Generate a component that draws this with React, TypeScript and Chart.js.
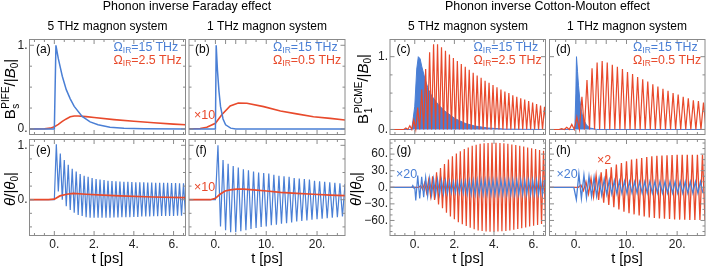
import React, { useEffect, useRef } from "react";
import { Chart, registerables } from "chart.js";

Chart.register(...registerables);

const W = 706;
const H = 267;
const YW = 26;
const XH = 22;
const BLUE = "#4a7fd5";
const RED = "#e84a2c";
const FRAME = "#8a8a8a";
const FONT = "'Liberation Sans', Arial, Helvetica, sans-serif";

// ---------- axis ranges ----------
const X5_RANGE = [-1.25, 6.6];
const X1_RANGE = [-5.2, 25.5];
const Y_PIFE_RANGE = [-0.066, 1.069];
const Y_PICME_RANGE = [-0.069, 1.236];
const Y_THETA_F_RANGE = [-0.658, 1.107];
const Y_THETA_CM_RANGE = [-87.2, 86.4];

// ---------- ticks ----------
const X5_LABELS = [0, 2, 4, 6];
const X5_TICKS = [-1, -0.5, 0, 0.5, 1, 1.5, 2, 2.5, 3, 3.5, 4, 4.5, 5, 5.5, 6, 6.5];
const X1_LABELS = [0, 10, 20];
const X1_TICKS = [-4, -2, 0, 2, 4, 6, 8, 10, 12, 14, 16, 18, 20, 22, 24];
const Y_UNIT_LABELS = [0, 1];
const Y_TOP_TICKS = [0, 0.25, 0.5, 0.75, 1];
const Y_THETA_F_TICKS = [-0.5, -0.25, 0, 0.25, 0.5, 0.75, 1];
const Y_THETA_CM_LABELS = [-60, -30, 0, 30, 60];
const Y_THETA_CM_TICKS = [-80, -70, -60, -50, -40, -30, -20, -10, 0, 10, 20, 30, 40, 50, 60, 70, 80];

// ---------- (a) PIFE, 5 THz ----------
const aBlueT = [-1.25, 0, 0.08, 0.2, 0.4, 0.6, 0.8, 1.0, 1.4, 1.8, 2.2, 2.8, 3.5, 4.5, 6.6];
const aBlueV = [0, 0, 1.0, 0.84, 0.63, 0.47, 0.36, 0.27, 0.15, 0.085, 0.05, 0.022, 0.008, 0.002, 0];
const aRedT = [-1.25, -0.5, -0.2, 0, 0.2, 0.4, 0.6, 0.8, 1.0, 1.2, 1.6, 2, 3, 4, 5, 6, 6.6];
const aRedV = [0, 0.003, 0.01, 0.025, 0.055, 0.09, 0.12, 0.145, 0.155, 0.155, 0.147, 0.137, 0.112, 0.092, 0.074, 0.058, 0.05];

// ---------- (b) PIFE, 1 THz ----------
const bBlueT = [-5.2, 0, 0.15, 0.4, 0.7, 1.0, 1.5, 2, 3, 4, 25.5];
const bBlueV = [0, 0, 1.0, 0.7, 0.45, 0.27, 0.12, 0.05, 0.01, 0, 0];
const bRedT = [-5.2, -3, -1.7, 0, 1.25, 2.9, 4.5, 6.2, 9.5, 12.8, 16, 19.3, 22.6, 25.5];
const bRedV = [0.002, 0.006, 0.02, 0.068, 0.17, 0.275, 0.31, 0.307, 0.267, 0.215, 0.18, 0.147, 0.127, 0.108];

// ---------- (c) PICME, 5 THz ----------
const cBlueT = [-1.25, -0.15, 0, 0.1, 0.18, 0.27, 0.35, 0.52, 0.69, 0.86, 1.19, 1.53, 2.03, 2.54, 3.04, 3.71, 4.55, 6.6];
const cBlueV = [0, 0, 0.32, 0.83, 1.0, 0.97, 0.87, 0.69, 0.55, 0.46, 0.34, 0.25, 0.15, 0.085, 0.047, 0.02, 0.005, 0];
const cRedStart = -0.45;
const cRedPeriod = 0.2;
const cRedPeaks = [0.02, 0.05, 0.13, 0.3, 0.55, 0.83, 1.06, 1.17, 1.17, 1.13, 1.08, 1.03, 0.98, 0.94, 0.9, 0.86, 0.82, 0.78,
  0.74, 0.71, 0.67, 0.64, 0.61, 0.58, 0.55, 0.52, 0.5, 0.47, 0.45, 0.43, 0.41, 0.39, 0.37, 0.35, 0.33, 0.31];

// ---------- (d) PICME, 1 THz ----------
const dBlueT = [-5.2, -0.2, 0, 0.13, 0.33, 0.53, 0.8, 1.1, 1.45, 2.1, 2.8, 4.1, 25.5];
const dBlueV = [0, 0, 0.5, 1.0, 0.8, 0.6, 0.4, 0.25, 0.15, 0.06, 0.02, 0, 0];
const dRedStart = -2.8;
const dRedPeriod = 1;
const dRedPeaks = [0.01, 0.03, 0.07, 0.17, 0.45, 0.68, 0.84, 0.92, 0.94, 0.92, 0.89, 0.86, 0.83, 0.79, 0.76, 0.72, 0.69,
  0.66, 0.62, 0.59, 0.56, 0.53, 0.5, 0.48, 0.45, 0.43, 0.4, 0.39, 0.37];

// ---------- (e) theta, PIFE 5 THz ----------
const eBlueLeadT = [-1.25, 0];
const eBlueLeadV = [0, 0];
const eBlueStart = 0.1;
const eBluePeriod = 0.2;
const eBlueHighs = [1.02, 0.85, 0.73, 0.64, 0.57, 0.52, 0.47, 0.44, 0.42, 0.4, 0.38, 0.37, 0.36, 0.35, 0.345, 0.34, 0.335,
  0.33, 0.33, 0.325, 0.32, 0.32, 0.32, 0.315, 0.315, 0.31, 0.31, 0.31, 0.31, 0.305, 0.305, 0.3, 0.3];
const eBlueLows = [0.15, 0.0, -0.12, -0.19, -0.24, -0.28, -0.3, -0.32, -0.33, -0.33, -0.33, -0.33, -0.33, -0.33, -0.325,
  -0.325, -0.32, -0.32, -0.32, -0.315, -0.315, -0.31, -0.31, -0.31, -0.305, -0.305, -0.3, -0.3, -0.3, -0.3, -0.295, -0.295, -0.29];
const eRedT = [-1.25, -0.3, 0, 0.28, 0.62, 0.95, 1.6, 2.45, 3.3, 4.95, 6.6];
const eRedV = [0, 0, 0.01, 0.07, 0.1, 0.115, 0.1, 0.085, 0.07, 0.05, 0.037];

// ---------- (f) theta, PIFE 1 THz ----------
const fBlueLeadT = [-5.2, 0];
const fBlueLeadV = [0, 0];
const fBlueStart = 0.5;
const fBluePeriod = 1;
const fBlueHighs = [1.0, 0.73, 0.66, 0.62, 0.59, 0.56, 0.54, 0.52, 0.5, 0.49, 0.48, 0.46, 0.44, 0.43, 0.42, 0.4, 0.39, 0.38,
  0.37, 0.35, 0.34, 0.33, 0.32, 0.31, 0.3, 0.29];
const fBlueLows = [-0.49, -0.56, -0.6, -0.6, -0.58, -0.56, -0.54, -0.52, -0.5, -0.49, -0.47, -0.46, -0.44, -0.43, -0.42,
  -0.4, -0.39, -0.38, -0.37, -0.36, -0.35, -0.34, -0.33, -0.32, -0.31];
const fRedT = [-5.2, -1, 0, 0.9, 1.9, 2.9, 4.2, 5.5, 7.5, 10.1, 12.8, 16, 19.3, 22.6, 25.5];
const fRedV = [0, 0, 0.025, 0.1, 0.16, 0.18, 0.195, 0.195, 0.18, 0.16, 0.135, 0.115, 0.1, 0.085, 0.075];

// ---------- (g) theta, PICME 5 THz ----------
const gBlueLeadT = [-1.25, -0.15, -0.1, -0.05, 0];
const gBlueLeadV = [0, 0, 3, -1, 0];
const gBlueStart = 0.05;
const gBluePeriod = 0.2;
const gBlueLows = [-24, -20, -18, -16, -15, -14, -13, -12, -11, -10, -10, -10.5, -11, -12, -12.5, -13, -13, -13, -13, -13,
  -13, -13, -13, -13, -13, -13, -13, -13, -13, -13, -13, -13, -13];
const gBlueHighs = [21, 19, 18, 16, 15, 14, 13, 12, 11, 10, 10, 10.5, 11, 12, 12.5, 13, 13, 13, 13, 13, 13, 13, 13, 13, 13,
  13, 13, 13, 13, 13, 13, 13, 13];
const gRedLeadT = [-1.25, 0.2];
const gRedLeadV = [0, 0];
const gRedStart = 0.3;
const gRedPeriod = 0.2;
const gRedHighs = [3, 8, 13, 20, 27, 35, 42, 50, 56, 61, 65, 69, 72, 75, 77, 78.5, 79.5, 80, 80.5, 80.5, 80, 79.5, 78.5, 77.5,
  76.5, 75, 73.5, 72, 70.5, 69, 67.5, 66];
const gRedLows = [-4, -10, -16, -23, -31, -38, -46, -53, -58, -63, -67, -70, -73, -76, -78, -79, -80, -80.5, -80.5, -80,
  -79.5, -79, -78, -77, -75.5, -74, -72.5, -71, -69.5, -68, -66.5, -65];

// ---------- (h) theta, PICME 1 THz ----------
const hBlueLeadT = [-5.2, -0.4];
const hBlueLeadV = [0, 0];
const hBlueStart = 0.1;
const hBluePeriod = 1;
const hBlueLows = [-22, -20, -19, -17, -16, -14, -13, -12, -11.5, -11, -11, -10.5, -10.5, -10.5, -10.5, -10.5, -10.5, -10.5,
  -10.5, -10.5, -10.5, -10.5, -10.5, -10.5, -10.5, -10.5];
const hBlueHighs = [24, 22, 20, 18, 16, 14.5, 13, 12, 11.5, 11, 10.5, 10, 10, 10, 10, 10, 10, 10, 10, 10, 10, 10, 10, 10, 10];
const hRedLeadT = [-5.2, 0.5];
const hRedLeadV = [0, 0];
const hRedStart = 1.0;
const hRedPeriod = 1;
const hRedHighs = [4, 10, 16, 22, 27, 33, 36, 41, 44, 47, 50, 51.5, 53, 54.5, 56, 57, 57.5, 58, 58.5, 59, 59, 59, 59, 59, 59];
const hRedLows = [-6, -12, -17, -23, -28, -32, -36, -40, -44, -47, -49, -51, -53, -54.5, -55.5, -56.5, -57, -57.5, -58,
  -58.5, -58.5, -59, -59, -59, -59];

// ---------- helpers to build the library's point tables ----------
type Pt = { x: number; y: number };
const pts = (t: number[], v: number[]): Pt[] => t.map((x, i) => ({ x, y: v[i] }));
function zigzag(t0: number, period: number, first: number[], second: number[]): Pt[] {
  const out: Pt[] = [];
  for (let i = 0; i < first.length; i++) {
    out.push({ x: t0 + i * period, y: first[i] });
    if (i < second.length) out.push({ x: t0 + (i + 0.5) * period, y: second[i] });
  }
  return out;
}
function spikes(t0: number, period: number, peaks: number[], xmin: number): Pt[] {
  const out: Pt[] = [{ x: xmin, y: 0 }];
  for (let i = 0; i < peaks.length; i++) {
    out.push({ x: t0 + (i - 0.5) * period, y: 0 });
    out.push({ x: t0 + i * period, y: peaks[i] });
  }
  out.push({ x: t0 + (peaks.length - 0.5) * period, y: 0 });
  return out;
}
const line = (data: Pt[], color: string, width = 1.2) => ({
  data,
  borderColor: color,
  backgroundColor: color,
  borderWidth: width,
  pointRadius: 0,
  fill: false,
});
const area = (data: Pt[], color: string) => ({
  data,
  borderColor: color,
  backgroundColor: color,
  borderWidth: 1,
  pointRadius: 0,
  fill: "origin",
});

const fmtNum = (v: number) => (v < 0 ? "\u2212" + String(-v) + "." : String(v) + ".");

type Panel = {
  left: number; top: number; right: number; bottom: number;
  xr: number[]; yr: number[];
  xLabels: number[] | null; yLabels: number[] | null;
  xTicks: number[]; yTicks: number[];
  datasets: any[];
};

const COL = [
  [29.5, 185.5],
  [189, 345],
  [390, 545.5],
  [549.5, 705],
];
const ROW = [
  [39.5, 134.5],
  [139.5, 235.5],
];

const PANELS: Panel[] = [
  {
    left: COL[0][0], right: COL[0][1], top: ROW[0][0], bottom: ROW[0][1], xr: X5_RANGE, yr: Y_PIFE_RANGE,
    xLabels: null, yLabels: Y_UNIT_LABELS, xTicks: X5_TICKS, yTicks: Y_TOP_TICKS,
    datasets: [line(pts(aBlueT, aBlueV), BLUE, 1.5), line(pts(aRedT, aRedV), RED, 1.6)],
  },
  {
    left: COL[1][0], right: COL[1][1], top: ROW[0][0], bottom: ROW[0][1], xr: X1_RANGE, yr: Y_PIFE_RANGE,
    xLabels: null, yLabels: null, xTicks: X1_TICKS, yTicks: Y_TOP_TICKS,
    datasets: [line(pts(bBlueT, bBlueV), BLUE, 1.5), line(pts(bRedT, bRedV), RED, 1.6)],
  },
  {
    left: COL[2][0], right: COL[2][1], top: ROW[0][0], bottom: ROW[0][1], xr: X5_RANGE, yr: Y_PICME_RANGE,
    xLabels: null, yLabels: Y_UNIT_LABELS, xTicks: X5_TICKS, yTicks: Y_TOP_TICKS,
    datasets: [line(spikes(cRedStart, cRedPeriod, cRedPeaks, X5_RANGE[0]), RED, 1.2), area(pts(cBlueT, cBlueV), BLUE)],
  },
  {
    left: COL[3][0], right: COL[3][1], top: ROW[0][0], bottom: ROW[0][1], xr: X1_RANGE, yr: Y_PICME_RANGE,
    xLabels: null, yLabels: null, xTicks: X1_TICKS, yTicks: Y_TOP_TICKS,
    datasets: [line(spikes(dRedStart, dRedPeriod, dRedPeaks, X1_RANGE[0]), RED, 1.2), area(pts(dBlueT, dBlueV), BLUE)],
  },
  {
    left: COL[0][0], right: COL[0][1], top: ROW[1][0], bottom: ROW[1][1], xr: X5_RANGE, yr: Y_THETA_F_RANGE,
    xLabels: X5_LABELS, yLabels: Y_UNIT_LABELS, xTicks: X5_TICKS, yTicks: Y_THETA_F_TICKS,
    datasets: [
      line(pts(eRedT, eRedV), RED, 1.7),
      line([...pts(eBlueLeadT, eBlueLeadV), ...zigzag(eBlueStart, eBluePeriod, eBlueHighs, eBlueLows)], BLUE, 1.2),
    ],
  },
  {
    left: COL[1][0], right: COL[1][1], top: ROW[1][0], bottom: ROW[1][1], xr: X1_RANGE, yr: Y_THETA_F_RANGE,
    xLabels: X1_LABELS, yLabels: null, xTicks: X1_TICKS, yTicks: Y_THETA_F_TICKS,
    datasets: [
      line(pts(fRedT, fRedV), RED, 1.7),
      line([...pts(fBlueLeadT, fBlueLeadV), ...zigzag(fBlueStart, fBluePeriod, fBlueHighs, fBlueLows)], BLUE, 1.2),
    ],
  },
  {
    left: COL[2][0], right: COL[2][1], top: ROW[1][0], bottom: ROW[1][1], xr: X5_RANGE, yr: Y_THETA_CM_RANGE,
    xLabels: X5_LABELS, yLabels: Y_THETA_CM_LABELS, xTicks: X5_TICKS, yTicks: Y_THETA_CM_TICKS,
    datasets: [
      line([...pts(gBlueLeadT, gBlueLeadV), ...zigzag(gBlueStart, gBluePeriod, gBlueLows, gBlueHighs)], BLUE, 1.2),
      line([...pts(gRedLeadT, gRedLeadV), ...zigzag(gRedStart, gRedPeriod, gRedHighs, gRedLows)], RED, 1.2),
    ],
  },
  {
    left: COL[3][0], right: COL[3][1], top: ROW[1][0], bottom: ROW[1][1], xr: X1_RANGE, yr: Y_THETA_CM_RANGE,
    xLabels: X1_LABELS, yLabels: null, xTicks: X1_TICKS, yTicks: Y_THETA_CM_TICKS,
    datasets: [
      line([...pts(hBlueLeadT, hBlueLeadV), ...zigzag(hBlueStart, hBluePeriod, hBlueLows, hBlueHighs)], BLUE, 1.3),
      line([...pts(hRedLeadT, hRedLeadV), ...zigzag(hRedStart, hRedPeriod, hRedHighs, hRedLows)], RED, 1.3),
    ],
  },
];

function makeConfig(p: Panel): any {
  const framePlugin = {
    id: "frameTicks",
    afterDraw(chart: any) {
      const { ctx, chartArea: a } = chart;
      const xs = chart.scales.x;
      const ys = chart.scales.y;
      ctx.save();
      ctx.strokeStyle = FRAME;
      ctx.lineWidth = 1;
      ctx.strokeRect(a.left, a.top, a.right - a.left, a.bottom - a.top);
      ctx.beginPath();
      for (const v of p.xTicks) {
        const px = xs.getPixelForValue(v);
        const len = (p.xLabels ? p.xLabels : X5_LABELS.concat(X1_LABELS)).includes(v) ? 4.5 : 2.5;
        ctx.moveTo(px, a.bottom);
        ctx.lineTo(px, a.bottom - len);
        ctx.moveTo(px, a.top);
        ctx.lineTo(px, a.top + len);
      }
      for (const v of p.yTicks) {
        const py = ys.getPixelForValue(v);
        const major = (p.yLabels || (p.yr[1] > 10 ? Y_THETA_CM_LABELS : Y_UNIT_LABELS)).includes(v);
        const len = major ? 4.5 : 2.5;
        ctx.moveTo(a.left, py);
        ctx.lineTo(a.left + len, py);
        ctx.moveTo(a.right, py);
        ctx.lineTo(a.right - len, py);
      }
      ctx.stroke();
      ctx.restore();
    },
  };
  return {
    type: "line",
    data: { datasets: p.datasets },
    options: {
      animation: false,
      responsive: false,
      maintainAspectRatio: false,
      parsing: false,
      events: [],
      layout: {
        padding: { left: p.left - YW, top: p.top, right: W - p.right, bottom: H - p.bottom - XH },
      },
      plugins: { legend: { display: false }, tooltip: { enabled: false } },
      elements: { point: { radius: 0 }, line: { tension: 0 } },
      scales: {
        x: {
          type: "linear",
          position: "bottom",
          min: p.xr[0],
          max: p.xr[1],
          grid: { display: false, drawTicks: false },
          border: { display: false },
          ticks: {
            display: !!p.xLabels,
            autoSkip: false,
            maxRotation: 0,
            padding: 2,
            color: "#222",
            font: { family: FONT, size: 12 },
            callback: (v: number) => fmtNum(v),
          },
          afterBuildTicks: (s: any) => {
            if (p.xLabels) s.ticks = p.xLabels.map((v) => ({ value: v }));
          },
          afterFit: (s: any) => {
            s.height = XH;
          },
        },
        y: {
          type: "linear",
          position: "left",
          min: p.yr[0],
          max: p.yr[1],
          grid: { display: false, drawTicks: false },
          border: { display: false },
          ticks: {
            display: !!p.yLabels,
            autoSkip: false,
            padding: 2,
            color: "#222",
            font: { family: FONT, size: 12 },
            callback: (v: number) => fmtNum(v),
          },
          afterBuildTicks: (s: any) => {
            if (p.yLabels) s.ticks = p.yLabels.map((v) => ({ value: v }));
          },
          afterFit: (s: any) => {
            s.width = YW;
          },
        },
      },
    },
    plugins: [framePlugin],
  };
}

function PanelChart({ p }: { p: Panel }) {
  const ref = useRef<HTMLCanvasElement>(null);
  useEffect(() => {
    if (!ref.current) return;
    const chart = new Chart(ref.current, makeConfig(p));
    return () => chart.destroy();
  }, [p]);
  return (
    <canvas
      ref={ref}
      width={W}
      height={H}
      style={{ position: "absolute", left: 0, top: 0, width: W, height: H, pointerEvents: "none" }}
    />
  );
}

const base: React.CSSProperties = {
  position: "absolute",
  whiteSpace: "nowrap",
  lineHeight: 1,
  fontFamily: FONT,
};

function T({ x, y, size = 12, color = "#000", align = "center", children }: any) {
  const tx = align === "left" ? "0" : "-50%";
  return (
    <div
      style={{
        ...base,
        left: x,
        top: y,
        fontSize: size,
        color,
        transform: `translate(${tx},-50%)`,
      }}
    >
      {children}
    </div>
  );
}

function RotLabel({ x, y, size, children }: any) {
  return (
    <div
      style={{
        ...base,
        left: x,
        top: y,
        fontSize: size,
        color: "#000",
        transform: "translate(-50%,-50%) rotate(-90deg)",
      }}
    >
      {children}
    </div>
  );
}

const Sub = ({ children, size = 8.5 }: any) => (
  <span style={{ fontSize: size, verticalAlign: -2 }}>{children}</span>
);

function Omega({ rest }: { rest: string }) {
  return (
    <>
      {"\u03A9"}
      <Sub>IR</Sub>
      {rest}
    </>
  );
}

function BLabel({ sub, sup }: { sub: string; sup: string }) {
  return (
    <span>
      B
      <span
        style={{
          display: "inline-flex",
          flexDirection: "column",
          verticalAlign: "middle",
          fontSize: 10,
          lineHeight: 1,
          marginLeft: 0.5,
        }}
      >
        <span>{sup}</span>
        <span>{sub}</span>
      </span>
      /|<i>B</i>
      <span style={{ fontSize: 10, verticalAlign: -3 }}>0</span>|
    </span>
  );
}

function ThetaLabel() {
  return (
    <span>
      <i>θ</i>/|<i>θ</i>
      <span style={{ fontSize: 10, verticalAlign: -3 }}>0</span>|
    </span>
  );
}

export default function App() {
  const legendTop = 48;
  const legendBot = 61;
  const LS = 12.4;
  return (
    <div style={{ position: "fixed", left: 0, top: 0, width: W, height: H, background: "#fff", overflow: "hidden" }}>
      {PANELS.map((p, i) => (
        <PanelChart key={i} p={p} />
      ))}
      {/* headings */}
      <T x={187} y={6} size={12.4}>Phonon inverse Faraday effect</T>
      <T x={547.5} y={6} size={12.4}>Phonon inverse Cotton-Mouton effect</T>
      <T x={107.5} y={26}>5 THz magnon system</T>
      <T x={267} y={26}>1 THz magnon system</T>
      <T x={468} y={26}>5 THz magnon system</T>
      <T x={627} y={26}>1 THz magnon system</T>

      {/* legends */}
      <T x={COL[0][1] - 72} y={legendTop} size={LS} align="left" color={BLUE}><Omega rest="=15 THz" /></T>
      <T x={COL[0][1] - 72} y={legendBot} size={LS} align="left" color={RED}><Omega rest="=2.5 THz" /></T>
      <T x={COL[1][1] - 72} y={legendTop} size={LS} align="left" color={BLUE}><Omega rest="=15 THz" /></T>
      <T x={COL[1][1] - 72} y={legendBot} size={LS} align="left" color={RED}><Omega rest="=0.5 THz" /></T>
      <T x={COL[2][1] - 72} y={legendTop} size={LS} align="left" color={BLUE}><Omega rest="=15 THz" /></T>
      <T x={COL[2][1] - 72} y={legendBot} size={LS} align="left" color={RED}><Omega rest="=2.5 THz" /></T>
      <T x={COL[3][1] - 72} y={legendTop} size={LS} align="left" color={BLUE}><Omega rest="=15 THz" /></T>
      <T x={COL[3][1] - 72} y={legendBot} size={LS} align="left" color={RED}><Omega rest="=0.5 THz" /></T>

      {/* panel letters */}
      <T x={COL[0][0] + 6.5} y={49} align="left">(a)</T>
      <T x={COL[1][0] + 6} y={49} align="left">(b)</T>
      <T x={COL[2][0] + 6.5} y={49} align="left">(c)</T>
      <T x={COL[3][0] + 6.5} y={49} align="left">(d)</T>
      <T x={COL[0][0] + 6.5} y={150} align="left">(e)</T>
      <T x={COL[1][0] + 6.5} y={150} align="left">(f)</T>
      <T x={COL[2][0] + 6.5} y={150} align="left">(g)</T>
      <T x={COL[3][0] + 6.5} y={150} align="left">(h)</T>

      {/* scale factors */}
      <T x={194} y={114.5} size={12.5} align="left" color={RED}>×10</T>
      <T x={194} y={186.5} size={12.5} align="left" color={RED}>×10</T>
      <T x={396} y={173.5} size={12.5} align="left" color={BLUE}>×20</T>
      <T x={556.5} y={174} size={12.5} align="left" color={BLUE}>×20</T>
      <T x={597} y={159.5} size={12.5} align="left" color={RED}>×2</T>

      {/* axis titles */}
      <T x={107.5} y={258} size={14.5}>t [ps]</T>
      <T x={267} y={258} size={14.5}>t [ps]</T>
      <T x={468} y={258} size={14.5}>t [ps]</T>
      <T x={627} y={258} size={14.5}>t [ps]</T>
      <RotLabel x={11} y={89} size={15}><BLabel sub="s" sup="PIFE" /></RotLabel>
      <RotLabel x={364} y={89} size={15}><BLabel sub="1" sup="PICME" /></RotLabel>
      <RotLabel x={11} y={189} size={15}><ThetaLabel /></RotLabel>
      <RotLabel x={357} y={189} size={15}><ThetaLabel /></RotLabel>
    </div>
  );
}
